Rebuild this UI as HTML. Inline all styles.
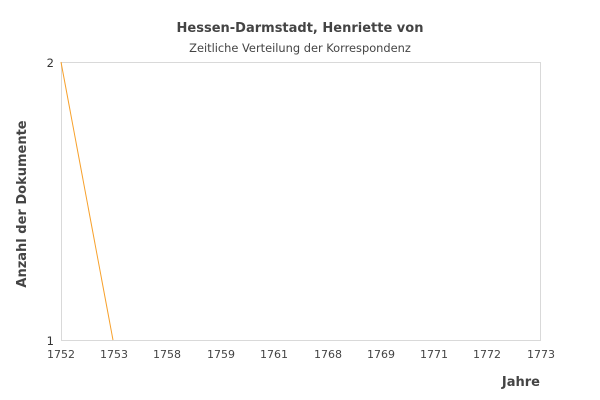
<!DOCTYPE html>
<html><head><meta charset="utf-8"><style>
html,body{margin:0;padding:0;background:#fff;}
svg{display:block;font-family:"DejaVu Sans","Liberation Sans",sans-serif;}
</style></head><body>
<svg width="600" height="400" viewBox="0 0 600 400" xmlns="http://www.w3.org/2000/svg">
<rect width="600" height="400" fill="#fff"/>
<text x="300" y="32" text-anchor="middle" font-size="13" font-weight="bold" fill="#444">Hessen-Darmstadt, Henriette von</text>
<text x="300" y="52" text-anchor="middle" font-size="11.4" fill="#444">Zeitliche Verteilung der Korrespondenz</text>
<rect x="61.5" y="62.5" width="479" height="278" fill="none" stroke="#d9d9d9" stroke-width="1"/>
<line x1="61" y1="62" x2="113" y2="340" stroke="#f7a02a" stroke-width="1"/>
<g font-size="11.5" fill="#333" text-anchor="end">
<text x="54" y="67">2</text>
<text x="54" y="345">1</text>
</g>
<g font-size="11" fill="#444" text-anchor="middle">
<text x="61" y="358">1752</text>
<text x="114" y="358">1753</text>
<text x="167" y="358">1758</text>
<text x="221" y="358">1759</text>
<text x="274" y="358">1761</text>
<text x="328" y="358">1768</text>
<text x="381" y="358">1769</text>
<text x="434" y="358">1771</text>
<text x="487" y="358">1772</text>
<text x="541" y="358">1773</text>
</g>
<text x="540" y="386" text-anchor="end" font-size="13" font-weight="bold" fill="#444">Jahre</text>
<text transform="translate(26,204) rotate(-90)" text-anchor="middle" font-size="13" font-weight="bold" fill="#444">Anzahl der Dokumente</text>
</svg>
</body></html>
